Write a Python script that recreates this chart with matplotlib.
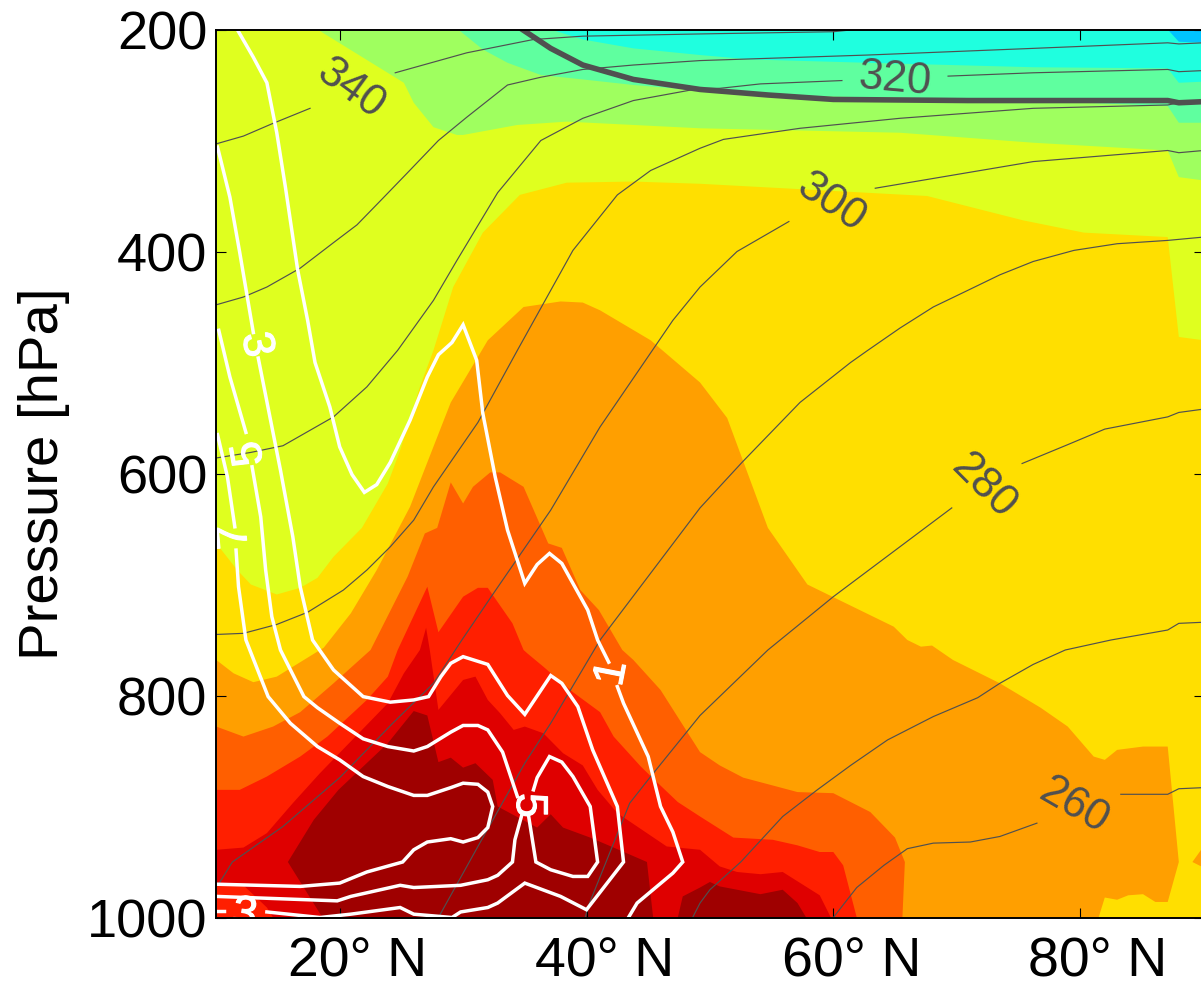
# plot.py - zonal mean section, pressure vs latitude
import matplotlib
matplotlib.use("Agg")
import matplotlib.pyplot as plt
import matplotlib.patheffects as pe
from matplotlib.transforms import ScaledTranslation

plt.rcParams["font.family"] = ["Liberation Sans", "DejaVu Sans"]

LAT_MIN, LAT_MAX = 10, 90
P_TOP, P_BOTTOM = 200, 1000

x_ticks = [20, 40, 60, 80]
x_tick_labels = ["20° N", "40° N", "60° N", "80° N"]
y_ticks = [200, 400, 600, 800, 1000]

# filled bands, outermost first (lat in deg N, p in hPa)
gc_lat = [10, 37.1, 39.7, 43.8, 49.2, 53.3, 62.8, 76.2, 87.1, 88.0, 90]
gc_p = [200, 200, 209, 217, 223, 227, 230, 234, 235, 248, 247]
green_lat = [10, 29.6, 31.6, 33.6, 36.3, 39.7, 43.8, 49.2, 57.3, 73.5, 87.1, 88.0, 90]
green_p = [200, 200, 218, 230, 241, 245, 250, 255, 260, 263, 269, 284, 284]
yg_lat = [10, 18.2, 25.2, 26.0, 27.6, 29.5, 30.0, 34.4, 38.4, 49.2, 65.4, 76.2, 87.1, 88.0, 90]
yg_p = [200, 200, 248, 266, 288, 295, 295, 286, 283, 289, 293, 302, 309, 333, 336]
yellow_lat = [10, 11.7, 12.8, 14.9, 16.8, 18.2, 19.5, 21.8, 23.9, 24.9, 26.5, 27.6, 29.2, 31.6,
              34.6, 38.4, 43.8, 49.2, 67.6, 75.4, 80.3, 87.1, 88.0, 90]
yellow_p = [663, 687, 700, 709, 703, 694, 675, 649, 609, 579, 522, 489, 432, 383,
            349, 338, 337, 339, 350, 372, 383, 387, 477, 480]
orange_lat = [10, 11.4, 13.0, 14.9, 16.8, 18.7, 20.9, 23.0, 25.7, 27.1, 29.0, 31.2, 32.0, 34.9,
              37.9, 39.7, 41.1, 45.2, 49.2, 51.4, 54.7, 57.9, 64.9, 66.0, 67.1, 68.0, 69.7,
              73.5, 76.8, 79.0, 81.1, 82.0, 83.0, 85.1, 87.1, 88.0, 87.1, 86.1, 85.1, 83.9,
              83.0, 82.0, 81.5]
orange_p = [768, 780, 788, 783, 770, 757, 726, 687, 630, 590, 536, 495, 480, 450,
            445, 446, 453, 480, 518, 550, 649, 700, 738, 750, 756, 755, 768,
            789, 811, 828, 855, 858, 849, 846, 846, 950, 986, 986, 979, 980,
            984, 982, 1000]
orange_patch_lat = [90, 89.1, 90]
orange_patch_p = [936, 950, 955]
dorange_lat = [10, 12.2, 14.6, 16.8, 19.5, 22.5, 25.5, 26.9, 27.9, 29.0, 30.0, 30.8, 32.2, 33.0,
               34.9, 36.9, 38.0, 39.5, 41.0, 42.9, 43.8, 46.0, 49.2, 50.8, 52.7, 57.1, 60.0,
               63.0, 65.0, 65.8, 65.6]
dorange_p = [828, 837, 828, 815, 789, 759, 693, 654, 649, 608, 627, 612, 599, 599,
             612, 663, 667, 705, 723, 759, 768, 795, 851, 863, 874, 887, 888,
             905, 928, 950, 1000]
redorange_lat = [10, 11.9, 14.1, 16.8, 19.0, 22.2, 23.9, 24.7, 27.1, 28.0, 30.0, 31.2, 32.0, 34.0,
                 34.9, 35.2, 36.5, 38.9, 41.1, 42.2, 44.4, 45.7, 47.4, 49.2, 51.9, 55.1, 57.1,
                 58.9, 60.0, 60.8, 61.9]
redorange_p = [885, 885, 873, 855, 837, 804, 783, 759, 702, 743, 711, 703, 703, 735,
               759, 762, 774, 797, 815, 837, 864, 878, 896, 909, 928, 930, 935,
               941, 941, 953, 1000]
red_lat = [10, 12.2, 14.1, 16.2, 18.4, 23.9, 25.2, 26.5, 27.0, 27.3, 28.0, 30.0, 31.0, 32.0,
           33.0, 34.1, 35.0, 36.5, 38.1, 39.7, 40.9, 42.5, 46.5, 49.2, 50.8, 52.2, 54.1,
           55.9, 57.9, 58.9, 59.8]
red_p = [939, 937, 924, 897, 870, 807, 780, 759, 739, 759, 813, 786, 783, 804,
         816, 831, 828, 834, 852, 863, 885, 906, 936, 939, 954, 959, 961,
         959, 973, 980, 1000]
corner_lat = [10, 12.2, 14.1, 14.6, 10]
corner_p = [971, 971, 991, 1000, 1000]
dred_lat = [15.8, 17.9, 19.9, 21.9, 23.9, 25.2, 26.0, 27.1, 28.0, 29.0, 30.0, 31.0, 32.4, 32.8,
            36.0, 37.1, 38.1, 40.3, 42.2, 44.9, 45.4, 18.6]
dred_p = [950, 912, 885, 864, 843, 825, 814, 818, 860, 856, 865, 861, 876, 900,
          919, 907, 919, 928, 937, 950, 1000, 1000]
dred2_lat = [47.4, 47.8, 49.2, 50.0, 50.8, 54.1, 55.9, 57.1, 57.8]
dred2_p = [1000, 981, 973, 968, 972, 979, 975, 987, 1000]
blue_lat = [87.1, 88.0, 90, 90]
blue_p = [200, 211, 212, 200]

# thin theta contours, split where a label sits
theta_lines = [
    ([10, 12.2, 14.5, 17.6], [303, 296, 285, 271]),
    ([24.5, 30.3, 35.7, 39.7, 49.2, 60.0, 61.8], [239, 221, 209, 206, 204, 202, 200]),
    ([10, 12.2, 14.1, 16.8, 19.5, 21.4, 23.5, 25.5, 28.0, 30.3, 33.6, 36.3, 39.7, 43.8, 49.2, 62.8,
      76.2, 87.1, 88.0, 90],
     [448, 441, 432, 415, 392, 376, 352, 329, 300, 279, 250, 243, 236, 232, 228, 223,
      217, 212, 213, 212]),
    ([10, 12.8, 15.4, 19.5, 22.2, 24.7, 27.6, 29.5, 32.8, 36.3, 39.7, 43.8, 49.2, 50.8, 54.1, 60.7],
     [586, 581, 575, 549, 522, 489, 444, 408, 347, 300, 280, 264, 253, 253, 249, 246]),
    ([69.3, 76.2, 87.1, 88.0, 90], [242, 239, 236, 238, 237]),
    ([10, 12.2, 14.9, 17.4, 20.3, 22.2, 24.1, 26.0, 27.6, 31.2, 34.4, 38.9, 42.5, 45.2, 49.2, 51.1,
      57.3, 65.4, 76.2, 87.1, 88.0, 90],
     [745, 744, 736, 725, 705, 687, 666, 642, 612, 554, 489, 399, 349, 327, 307, 299,
      289, 280, 271, 268, 266, 266]),
    ([10, 10.3, 11.3, 15.4, 20.0, 24.3, 27.6, 29.9, 32.4, 37.1, 41.1, 47.0, 49.2, 52.2, 56.4],
     [972, 968, 950, 918, 874, 825, 789, 750, 709, 633, 558, 462, 432, 400, 373]),
    ([63.4, 76.2, 87.1, 88.0, 90], [343, 319, 309, 311, 309]),
    ([28.0, 31.2, 35.0, 37.1, 41.1, 49.2, 52.6, 57.3, 61.4, 62.8, 65.4, 68.1, 70.9, 73.5, 76.2,
      79.5, 83.0, 87.1, 90],
     [1000, 936, 861, 825, 750, 631, 590, 536, 500, 489, 469, 450, 435, 421, 409,
      399, 393, 390, 387]),
    ([39.9, 40.1, 43.5, 45.2, 49.2, 54.7, 60.0, 69.6], [1000, 991, 897, 873, 818, 759, 711, 631]),
    ([75.3, 79.0, 82.0, 87.1, 88.0, 90], [591, 574, 560, 549, 545, 542]),
    ([48.6, 49.2, 50.0, 52.5, 55.9, 58.7, 61.4, 64.4, 68.1, 71.7, 73.5, 76.2, 78.8, 82.5, 87.1, 88.0, 90],
     [1000, 987, 975, 950, 909, 885, 863, 840, 819, 802, 789, 772, 759, 750, 741, 735, 734]),
    ([60.0, 61.9, 64.1, 66.0, 68.1, 71.1, 73.5, 76.5], [1000, 973, 953, 938, 933, 932, 927, 915]),
    ([83.3, 87.1, 88.0, 90], [889, 889, 884, 883]),
]

# thick grey line
pv_lat = [34.8, 37.1, 39.7, 43.8, 49.2, 54.7, 60.0, 70.9, 87.1, 88.0, 90]
pv_p = [200, 217, 232, 245, 254, 259, 263, 264, 264, 266, 265]

# white contours, split where a label sits
white_lines = [
    ([11.7, 13.0, 14.1, 14.9, 15.6, 16.6, 17.4, 18.0, 19.2, 20.0, 21.0, 22.0, 23.0, 24.1, 25.7, 27.1,
      28.0, 29.1, 30.0, 31.1, 31.6, 32.6, 33.6, 35.0, 36.0, 37.0, 38.0, 40.1, 40.9, 41.8],
     [200, 225, 248, 293, 342, 417, 462, 500, 540, 576, 601, 617, 610, 590, 552, 513,
      493, 482, 466, 498, 546, 603, 651, 699, 682, 672, 681, 723, 750, 770]),
    ([42.5, 43.0, 45.0, 46.0, 47.0, 47.8, 47.0, 44.1, 43.4],
     [792, 807, 855, 900, 923, 950, 960, 987, 1000]),
    ([10.1, 11.1, 11.9, 13.0], [306, 351, 401, 473]),
    ([13.4, 15.2, 16.2, 16.8, 17.8, 19.5, 21.9, 24.1, 26.0, 27.2, 28.2, 29.0, 30.0, 32.0, 33.6, 35.0,
      37.1, 38.0, 39.3, 40.5, 42.5, 43.0, 40.0, 37.9, 35.0, 32.8, 32.0, 29.8, 29.1, 26.0, 24.9, 20.9,
      18.4, 14.1],
     [496, 597, 657, 702, 750, 777, 801, 806, 804, 801, 783, 771, 765, 772, 800, 817,
      782, 789, 810, 849, 900, 950, 993, 981, 969, 987, 991, 995, 1000, 997, 991, 997,
      1000, 995]),
    ([10.6, 10], [994, 994]),
    ([10.2, 11.1, 12.4], [471, 513, 563]),
    ([12.9, 13.6, 14.0, 14.5, 15.2, 17.1, 18.2, 20.0, 21.9, 23.9, 26.0, 27.1, 29.0, 30.0, 31.2, 32.0,
      33.2, 34.4],
     [594, 639, 687, 729, 759, 801, 811, 825, 839, 846, 850, 846, 833, 827, 827, 831,
      851, 891]),
    ([34.8, 34.2, 34.0, 32.8, 32.0, 29.8, 26.0, 24.9, 20.9, 19.8, 10],
     [906, 930, 950, 962, 966, 971, 973, 971, 981, 985, 981]),
    ([35.3, 35.9, 37.1, 38.9, 40.1, 40.9, 40.3, 38.9, 38.0, 37.0, 36.0, 35.7],
     [908, 950, 957, 963, 963, 950, 900, 873, 860, 855, 874, 885]),
    ([10.1, 10.9, 11.5], [565, 603, 648]),
    ([11.6, 11.8, 12.4, 14.2, 16.0, 18.2, 20.0, 21.9, 23.9, 26.0, 27.1, 29.0, 30.0, 31.2, 32.0, 32.4,
      32.0, 31.2, 30.0, 29.0, 27.1, 26.0, 25.1, 22.2, 20.0, 16.8, 10],
     [669, 702, 750, 801, 825, 846, 858, 873, 882, 890, 890, 883, 879, 880, 887, 900,
      919, 928, 932, 929, 932, 939, 950, 959, 969, 972, 970]),
]

# contour labels
grey_text = ["340", "320", "300", "280", "260"]
grey_lat = [20.9, 65.0, 59.8, 72.2, 79.5]
grey_p = [254, 245, 356, 612, 900]
grey_rot = [-36, -5, -34, -45, -30]
white_text = ["3", "5", "7", "5", "1", "3"]
white_lat = [13.2, 12.7, 11.5, 35.3, 42.1, 12.3]
white_p = [484, 582, 657, 899, 780, 998]
white_rot = [-80, 100, 95, -90, 79, -8]


def fill_down(ax, lat, p, color):
    # band reaching down to the bottom edge of the axes
    ax.fill(list(lat) + [LAT_MAX, LAT_MIN], list(p) + [P_BOTTOM, P_BOTTOM],
            color=color, lw=0, zorder=1)


fig = plt.figure(figsize=(12.01, 9.85), dpi=100)
ax = fig.add_axes([216.3 / 1201, 1 - 917.5 / 985, 987.2 / 1201, 888 / 985])
ax.set_facecolor("#1FFFDF")

ax.fill(blue_lat, blue_p, color="#00C4FF", lw=0, zorder=1)
fill_down(ax, gc_lat, gc_p, "#5FFF9F")
fill_down(ax, green_lat, green_p, "#9FFF5F")
fill_down(ax, yg_lat, yg_p, "#DFFF1F")
fill_down(ax, yellow_lat, yellow_p, "#FFDF00")
fill_down(ax, orange_lat, orange_p, "#FF9F00")
ax.fill(orange_patch_lat, orange_patch_p, color="#FF9F00", lw=0, zorder=1)
fill_down(ax, dorange_lat, dorange_p, "#FF5F00")
fill_down(ax, redorange_lat, redorange_p, "#FF1F00")
fill_down(ax, red_lat, red_p, "#DF0000")
ax.fill(corner_lat, corner_p, color="#FF1F00", lw=0, zorder=1)
ax.fill(dred_lat, dred_p, color="#9F0000", lw=0, zorder=1)
ax.fill(dred2_lat, dred2_p, color="#9F0000", lw=0, zorder=1)

for lat, p in theta_lines:
    ax.plot(lat, p, color="#505050", lw=0.85, zorder=2)
ax.plot(pv_lat, pv_p, color="#505050", lw=4, zorder=3)
for lat, p in white_lines:
    ax.plot(lat, p, color="white", lw=2.5, zorder=4, solid_joinstyle="miter")

for s, lat, p, rot in zip(grey_text, grey_lat, grey_p, grey_rot):
    ax.text(lat, p, s, color="#505050", fontsize=31.5, rotation=rot, ha="center", va="center",
            rotation_mode="anchor", zorder=5)
for s, lat, p, rot in zip(white_text, white_lat, white_p, white_rot):
    t = ax.text(lat, p, s, color="white", fontsize=32, rotation=rot, ha="center", va="center",
                rotation_mode="anchor", zorder=5, clip_on=True)
    t.set_path_effects([pe.withStroke(linewidth=0.8, foreground="white")])

ax.set_xlim(LAT_MIN, LAT_MAX)
ax.set_ylim(P_BOTTOM, P_TOP)
ax.set_xticks(x_ticks)
ax.set_xticklabels(x_tick_labels, fontsize=40)
ax.set_yticks(y_ticks)
ax.tick_params(axis="both", direction="in", top=True, right=True, length=7.2, width=0.8)
ax.tick_params(axis="x", pad=14, labelsize=40)
ax.tick_params(axis="y", pad=6.5, labelsize=39)
for spine in ax.spines.values():
    spine.set_linewidth(1.4)
    spine.set_zorder(6)

# x labels sit a bit right of their ticks in the original
shift = ScaledTranslation(18 / 100, 0, fig.dpi_scale_trans)
for label in ax.get_xticklabels():
    label.set_transform(label.get_transform() + shift)

ax.set_ylabel("Pressure [hPa]", fontsize=40.6)
ax.yaxis.set_label_coords(-(216.3 - 70) / 987.2, 0.5)

fig.savefig("out.png", dpi=100)
